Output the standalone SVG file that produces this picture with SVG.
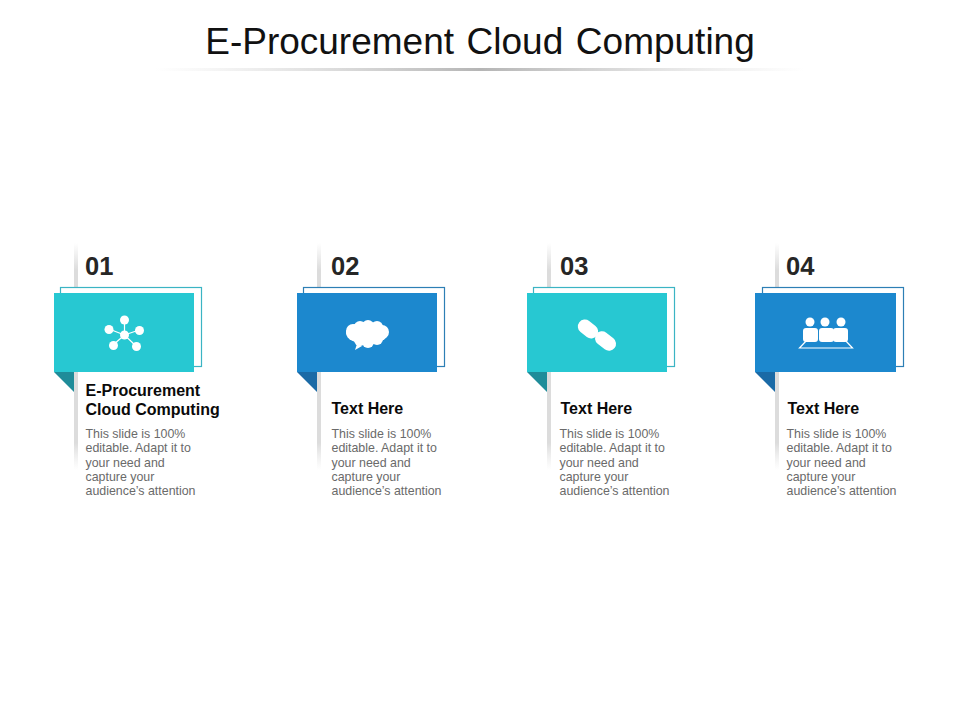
<svg xmlns="http://www.w3.org/2000/svg" width="960" height="720" viewBox="0 0 960 720">
<style>
text{font-family:"Liberation Sans",Arial,sans-serif}
.title{font-size:37px;fill:#111;text-anchor:middle;word-spacing:2.300px}
.num{font-size:25.500px;font-weight:700;fill:#262626}
.head{font-size:16px;font-weight:700;fill:#0a0a0a}
.body{font-size:12.400px;fill:#6a6a6a}
.teal{fill:#27c8d2}.blue{fill:#1c88ce}
.ot{fill:#fff;stroke:#3bb4c4;stroke-width:1.200}.ob{fill:#fff;stroke:#2d7fb5;stroke-width:1.200}
.ft{fill:#1f8c99}.fb{fill:#1a6aa6}
.w{fill:#fff}.wl{stroke:#fff;stroke-width:1.200;fill:none}
</style>
<defs>
<linearGradient id="rule"><stop offset="0" stop-color="#ccc" stop-opacity="0"/><stop offset=".5" stop-color="#b5b5b5"/><stop offset="1" stop-color="#ccc" stop-opacity="0"/></linearGradient>
<linearGradient id="shade" x1="0" x2="0" y1="0" y2="1"><stop offset="0" stop-color="#ddd" stop-opacity="0"/><stop offset=".12" stop-color="#dcdcdc"/><stop offset=".88" stop-color="#dcdcdc"/><stop offset="1" stop-color="#e5e5e5" stop-opacity="0"/></linearGradient>
</defs>
<g id="title"><text class="title" x="480" y="54">E-Procurement Cloud Computing</text><rect x="155" y="68" width="650" height="3" fill="url(#rule)"/></g>
<g id="node-1">
<rect x="74" y="243" width="4" height="227" fill="url(#shade)"/>
<rect class="ot" x="60.500" y="287.500" width="141" height="79"/>
<rect class="teal" x="54" y="293" width="140" height="79"/>
<path class="ft" d="M54 372H74V392Z"/>
<g id="icon-network"><path class="wl" d="M124.500 335L124.500 320M124.500 335L109 329M124.500 335L139 330M124.500 335L113 345M124.500 335L136 346"/>
<circle class="w" cx="124.500" cy="320" r="4.500"/><circle class="w" cx="109" cy="329.500" r="4.500"/><circle class="w" cx="139.500" cy="330.500" r="4.500"/><circle class="w" cx="113.500" cy="345.500" r="4.500"/><circle class="w" cx="136.500" cy="346.500" r="4.500"/><circle class="w" cx="124.500" cy="335" r="4.500"/></g>
<text class="num" x="85" y="275">01</text>
<text class="head" x="85.500" y="396">E-Procurement</text><text class="head" x="85.500" y="415">Cloud Computing</text>
<text class="body" x="85.500" y="438">This slide is 100%</text><text class="body" x="85.500" y="452">editable. Adapt it to</text><text class="body" x="85.500" y="467">your need and</text><text class="body" x="85.500" y="481">capture your</text><text class="body" x="85.500" y="495">audience’s attention</text>
</g>
<g id="node-2">
<rect x="317" y="243" width="4" height="227" fill="url(#shade)"/>
<rect class="ob" x="303.500" y="287.500" width="141" height="79"/>
<rect class="blue" x="297" y="293" width="140" height="79"/>
<path class="fb" d="M297 372H317V392Z"/>
<g id="icon-speech" class="w"><ellipse cx="367" cy="333" rx="21" ry="11"/><circle cx="353" cy="331" r="7"/><circle cx="382" cy="332" r="7"/><circle cx="360" cy="327" r="6"/><circle cx="368" cy="326" r="6"/><circle cx="377" cy="327" r="6"/><circle cx="360" cy="340" r="6"/><circle cx="368" cy="342" r="6"/><circle cx="377" cy="339" r="6"/><path d="M357 344L355 350L362 346Z"/></g>
<text class="num" x="331" y="275">02</text>
<text class="head" x="331.500" y="414">Text Here</text>
<text class="body" x="331.500" y="438">This slide is 100%</text><text class="body" x="331.500" y="452">editable. Adapt it to</text><text class="body" x="331.500" y="467">your need and</text><text class="body" x="331.500" y="481">capture your</text><text class="body" x="331.500" y="495">audience’s attention</text>
</g>
<g id="node-3">
<rect x="547" y="243" width="4" height="227" fill="url(#shade)"/>
<rect class="ot" x="533.500" y="287.500" width="141" height="79"/>
<rect class="teal" x="527" y="293" width="140" height="79"/>
<path class="ft" d="M527 372H547V392Z"/>
<g id="icon-pill"><rect class="w" x="577" y="322" width="22" height="14" rx="7" transform="rotate(38 588 329)"/><rect class="w" x="594" y="334" width="23" height="14" rx="7" transform="rotate(38 605.500 341)"/></g>
<text class="num" x="560" y="275">03</text>
<text class="head" x="560.500" y="414">Text Here</text>
<text class="body" x="559.500" y="438">This slide is 100%</text><text class="body" x="559.500" y="452">editable. Adapt it to</text><text class="body" x="559.500" y="467">your need and</text><text class="body" x="559.500" y="481">capture your</text><text class="body" x="559.500" y="495">audience’s attention</text>
</g>
<g id="node-4">
<rect x="775" y="243" width="4" height="227" fill="url(#shade)"/>
<rect class="ob" x="762.500" y="287.500" width="141" height="79"/>
<rect class="blue" x="755" y="293" width="141" height="79"/>
<path class="fb" d="M755 372H775V392Z"/>
<g id="icon-audience"><circle class="w" cx="810" cy="322" r="4.500"/><circle class="w" cx="825" cy="322" r="4.500"/><circle class="w" cx="841" cy="322" r="4.500"/><rect class="w" x="803" y="328" width="15" height="14" rx="3"/><rect class="w" x="819" y="328" width="15" height="14" rx="3"/><rect class="w" x="833" y="328" width="15" height="14" rx="3"/><path class="wl" d="M807 340L799.500 348H852.500L845 340"/></g>
<text class="num" x="786" y="275">04</text>
<text class="head" x="787.500" y="414">Text Here</text>
<text class="body" x="786.500" y="438">This slide is 100%</text><text class="body" x="786.500" y="452">editable. Adapt it to</text><text class="body" x="786.500" y="467">your need and</text><text class="body" x="786.500" y="481">capture your</text><text class="body" x="786.500" y="495">audience’s attention</text>
</g>
<g id="connectors"/>
</svg>
